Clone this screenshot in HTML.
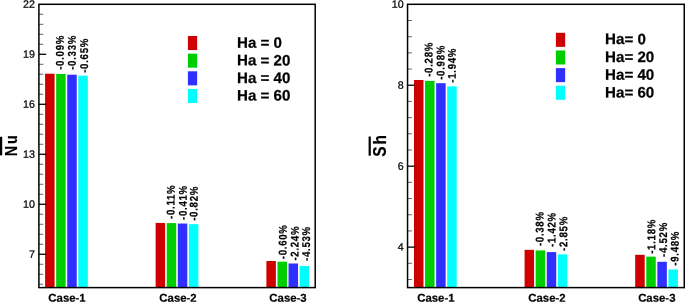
<!DOCTYPE html>
<html><head><meta charset="utf-8"><title>Bar charts</title>
<style>
html,body{margin:0;padding:0;background:#fff;}
body{width:685px;height:302px;overflow:hidden;}
svg{display:block;font-family:"Liberation Sans", Arial, Helvetica, sans-serif;fill:#000;will-change:transform;}
</style></head><body>
<svg width="685" height="302" viewBox="0 0 685 302">
<rect x="45.08" y="73.71" width="9.5" height="213.89" fill="#ce0000"/>
<rect x="56.16" y="73.98" width="9.5" height="213.62" fill="#00cd00"/>
<rect x="67.24" y="74.69" width="9.5" height="212.91" fill="#2f2fff"/>
<rect x="78.32" y="75.64" width="9.5" height="211.96" fill="#00ffff"/>
<rect x="155.63" y="222.94" width="9.5" height="64.66" fill="#ce0000"/>
<rect x="166.71" y="223.10" width="9.5" height="64.50" fill="#00cd00"/>
<rect x="177.79" y="223.55" width="9.5" height="64.05" fill="#2f2fff"/>
<rect x="188.87" y="224.15" width="9.5" height="63.45" fill="#00ffff"/>
<rect x="266.38" y="261.02" width="9.5" height="26.58" fill="#ce0000"/>
<rect x="277.46" y="261.68" width="9.5" height="25.92" fill="#00cd00"/>
<rect x="288.54" y="263.48" width="9.5" height="24.12" fill="#2f2fff"/>
<rect x="299.62" y="266.00" width="9.5" height="21.60" fill="#00ffff"/>
<text transform="translate(35.00,7.80) rotate(0.1)" font-size="10.7" text-anchor="end" stroke="#000" stroke-width="0.25">22</text>
<line x1="38.9" y1="14.30" x2="43.3" y2="14.30" stroke="#333" stroke-width="0.75"/>
<line x1="38.9" y1="24.30" x2="43.3" y2="24.30" stroke="#333" stroke-width="0.75"/>
<line x1="38.9" y1="34.30" x2="43.3" y2="34.30" stroke="#333" stroke-width="0.75"/>
<line x1="38.9" y1="44.30" x2="43.3" y2="44.30" stroke="#333" stroke-width="0.75"/>
<line x1="38.9" y1="54.29" x2="46.199999999999996" y2="54.29" stroke="#000" stroke-width="1.3"/>
<text transform="translate(35.00,57.79) rotate(0.1)" font-size="10.7" text-anchor="end" stroke="#000" stroke-width="0.25">19</text>
<line x1="38.9" y1="64.29" x2="43.3" y2="64.29" stroke="#333" stroke-width="0.75"/>
<line x1="38.9" y1="74.29" x2="43.3" y2="74.29" stroke="#333" stroke-width="0.75"/>
<line x1="38.9" y1="84.29" x2="43.3" y2="84.29" stroke="#333" stroke-width="0.75"/>
<line x1="38.9" y1="94.29" x2="43.3" y2="94.29" stroke="#333" stroke-width="0.75"/>
<line x1="38.9" y1="104.29" x2="46.199999999999996" y2="104.29" stroke="#000" stroke-width="1.3"/>
<text transform="translate(35.00,107.79) rotate(0.1)" font-size="10.7" text-anchor="end" stroke="#000" stroke-width="0.25">16</text>
<line x1="38.9" y1="114.29" x2="43.3" y2="114.29" stroke="#333" stroke-width="0.75"/>
<line x1="38.9" y1="124.29" x2="43.3" y2="124.29" stroke="#333" stroke-width="0.75"/>
<line x1="38.9" y1="134.28" x2="43.3" y2="134.28" stroke="#333" stroke-width="0.75"/>
<line x1="38.9" y1="144.28" x2="43.3" y2="144.28" stroke="#333" stroke-width="0.75"/>
<line x1="38.9" y1="154.28" x2="46.199999999999996" y2="154.28" stroke="#000" stroke-width="1.3"/>
<text transform="translate(35.00,157.78) rotate(0.1)" font-size="10.7" text-anchor="end" stroke="#000" stroke-width="0.25">13</text>
<line x1="38.9" y1="164.28" x2="43.3" y2="164.28" stroke="#333" stroke-width="0.75"/>
<line x1="38.9" y1="174.28" x2="43.3" y2="174.28" stroke="#333" stroke-width="0.75"/>
<line x1="38.9" y1="184.28" x2="43.3" y2="184.28" stroke="#333" stroke-width="0.75"/>
<line x1="38.9" y1="194.28" x2="43.3" y2="194.28" stroke="#333" stroke-width="0.75"/>
<line x1="38.9" y1="204.28" x2="46.199999999999996" y2="204.28" stroke="#000" stroke-width="1.3"/>
<text transform="translate(35.00,207.78) rotate(0.1)" font-size="10.7" text-anchor="end" stroke="#000" stroke-width="0.25">10</text>
<line x1="38.9" y1="214.28" x2="43.3" y2="214.28" stroke="#333" stroke-width="0.75"/>
<line x1="38.9" y1="224.27" x2="43.3" y2="224.27" stroke="#333" stroke-width="0.75"/>
<line x1="38.9" y1="234.27" x2="43.3" y2="234.27" stroke="#333" stroke-width="0.75"/>
<line x1="38.9" y1="244.27" x2="43.3" y2="244.27" stroke="#333" stroke-width="0.75"/>
<line x1="38.9" y1="254.27" x2="46.199999999999996" y2="254.27" stroke="#000" stroke-width="1.3"/>
<text transform="translate(35.00,257.77) rotate(0.1)" font-size="10.7" text-anchor="end" stroke="#000" stroke-width="0.25">7</text>
<line x1="38.9" y1="264.27" x2="43.3" y2="264.27" stroke="#333" stroke-width="0.75"/>
<line x1="38.9" y1="274.27" x2="43.3" y2="274.27" stroke="#333" stroke-width="0.75"/>
<line x1="38.9" y1="284.27" x2="43.3" y2="284.27" stroke="#333" stroke-width="0.75"/>
<rect x="38.9" y="4.3" width="276.30" height="283.30" fill="none" stroke="#000" stroke-width="1.5"/>
<text transform="translate(63.70,69.80) rotate(-89.9) scale(0.9,1.05)" font-size="10.7" font-weight="bold" letter-spacing="0.8" stroke="#000" stroke-width="0.2">-0.09%</text>
<text transform="translate(75.70,69.80) rotate(-89.9) scale(0.9,1.05)" font-size="10.7" font-weight="bold" letter-spacing="0.8" stroke="#000" stroke-width="0.2">-0.33%</text>
<text transform="translate(87.90,72.80) rotate(-89.9) scale(0.9,1.05)" font-size="10.7" font-weight="bold" letter-spacing="0.8" stroke="#000" stroke-width="0.2">-0.65%</text>
<text transform="translate(174.60,219.00) rotate(-89.9) scale(0.9,1.05)" font-size="10.7" font-weight="bold" letter-spacing="0.8" stroke="#000" stroke-width="0.2">-0.11%</text>
<text transform="translate(186.70,220.00) rotate(-89.9) scale(0.9,1.05)" font-size="10.7" font-weight="bold" letter-spacing="0.8" stroke="#000" stroke-width="0.2">-0.41%</text>
<text transform="translate(197.60,220.80) rotate(-89.9) scale(0.9,1.05)" font-size="10.7" font-weight="bold" letter-spacing="0.8" stroke="#000" stroke-width="0.2">-0.82%</text>
<text transform="translate(286.60,259.20) rotate(-89.9) scale(0.9,1.05)" font-size="10.7" font-weight="bold" letter-spacing="0.8" stroke="#000" stroke-width="0.2">-0.60%</text>
<text transform="translate(298.60,260.60) rotate(-89.9) scale(0.9,1.05)" font-size="10.7" font-weight="bold" letter-spacing="0.8" stroke="#000" stroke-width="0.2">-2.24%</text>
<text transform="translate(310.00,261.00) rotate(-89.9) scale(0.9,1.05)" font-size="10.7" font-weight="bold" letter-spacing="0.8" stroke="#000" stroke-width="0.2">-4.53%</text>
<text transform="translate(67.00,301.8) rotate(0.1)" font-size="11.4" font-weight="bold" stroke="#000" stroke-width="0.2" text-anchor="middle">Case-1</text>
<text transform="translate(178.00,301.8) rotate(0.1)" font-size="11.4" font-weight="bold" stroke="#000" stroke-width="0.2" text-anchor="middle">Case-2</text>
<text transform="translate(288.00,301.8) rotate(0.1)" font-size="11.4" font-weight="bold" stroke="#000" stroke-width="0.2" text-anchor="middle">Case-3</text>
<rect x="413.98" y="79.98" width="9.5" height="207.62" fill="#ce0000"/>
<rect x="425.06" y="80.90" width="9.5" height="206.70" fill="#00cd00"/>
<rect x="436.14" y="83.21" width="9.5" height="204.39" fill="#2f2fff"/>
<rect x="447.22" y="86.36" width="9.5" height="201.24" fill="#00ffff"/>
<rect x="524.58" y="249.84" width="9.5" height="37.76" fill="#ce0000"/>
<rect x="535.66" y="250.45" width="9.5" height="37.15" fill="#00cd00"/>
<rect x="546.74" y="252.10" width="9.5" height="35.50" fill="#2f2fff"/>
<rect x="557.82" y="254.38" width="9.5" height="33.22" fill="#00ffff"/>
<rect x="635.18" y="254.82" width="9.5" height="32.78" fill="#ce0000"/>
<rect x="646.26" y="256.64" width="9.5" height="30.96" fill="#00cd00"/>
<rect x="657.34" y="261.79" width="9.5" height="25.81" fill="#2f2fff"/>
<rect x="668.42" y="269.44" width="9.5" height="18.16" fill="#00ffff"/>
<text transform="translate(403.65,7.80) rotate(0.1)" font-size="10.7" text-anchor="end" stroke="#000" stroke-width="0.25">10</text>
<line x1="407.55" y1="20.49" x2="411.95" y2="20.49" stroke="#333" stroke-width="0.75"/>
<line x1="407.55" y1="36.68" x2="411.95" y2="36.68" stroke="#333" stroke-width="0.75"/>
<line x1="407.55" y1="52.87" x2="411.95" y2="52.87" stroke="#333" stroke-width="0.75"/>
<line x1="407.55" y1="69.05" x2="411.95" y2="69.05" stroke="#333" stroke-width="0.75"/>
<line x1="407.55" y1="85.24" x2="414.85" y2="85.24" stroke="#000" stroke-width="1.3"/>
<text transform="translate(403.65,88.74) rotate(0.1)" font-size="10.7" text-anchor="end" stroke="#000" stroke-width="0.25">8</text>
<line x1="407.55" y1="101.43" x2="411.95" y2="101.43" stroke="#333" stroke-width="0.75"/>
<line x1="407.55" y1="117.62" x2="411.95" y2="117.62" stroke="#333" stroke-width="0.75"/>
<line x1="407.55" y1="133.81" x2="411.95" y2="133.81" stroke="#333" stroke-width="0.75"/>
<line x1="407.55" y1="150.00" x2="411.95" y2="150.00" stroke="#333" stroke-width="0.75"/>
<line x1="407.55" y1="166.19" x2="414.85" y2="166.19" stroke="#000" stroke-width="1.3"/>
<text transform="translate(403.65,169.69) rotate(0.1)" font-size="10.7" text-anchor="end" stroke="#000" stroke-width="0.25">6</text>
<line x1="407.55" y1="182.37" x2="411.95" y2="182.37" stroke="#333" stroke-width="0.75"/>
<line x1="407.55" y1="198.56" x2="411.95" y2="198.56" stroke="#333" stroke-width="0.75"/>
<line x1="407.55" y1="214.75" x2="411.95" y2="214.75" stroke="#333" stroke-width="0.75"/>
<line x1="407.55" y1="230.94" x2="411.95" y2="230.94" stroke="#333" stroke-width="0.75"/>
<line x1="407.55" y1="247.13" x2="414.85" y2="247.13" stroke="#000" stroke-width="1.3"/>
<text transform="translate(403.65,250.63) rotate(0.1)" font-size="10.7" text-anchor="end" stroke="#000" stroke-width="0.25">4</text>
<line x1="407.55" y1="263.32" x2="411.95" y2="263.32" stroke="#333" stroke-width="0.75"/>
<line x1="407.55" y1="279.51" x2="411.95" y2="279.51" stroke="#333" stroke-width="0.75"/>
<rect x="407.55" y="4.3" width="276.70" height="283.30" fill="none" stroke="#000" stroke-width="1.5"/>
<text transform="translate(432.40,76.80) rotate(-89.9) scale(0.9,1.05)" font-size="10.7" font-weight="bold" letter-spacing="0.8" stroke="#000" stroke-width="0.2">-0.28%</text>
<text transform="translate(444.40,79.80) rotate(-89.9) scale(0.9,1.05)" font-size="10.7" font-weight="bold" letter-spacing="0.8" stroke="#000" stroke-width="0.2">-0.98%</text>
<text transform="translate(455.70,82.70) rotate(-89.9) scale(0.9,1.05)" font-size="10.7" font-weight="bold" letter-spacing="0.8" stroke="#000" stroke-width="0.2">-1.94%</text>
<text transform="translate(543.50,246.10) rotate(-89.9) scale(0.9,1.05)" font-size="10.7" font-weight="bold" letter-spacing="0.8" stroke="#000" stroke-width="0.2">-0.38%</text>
<text transform="translate(555.40,247.00) rotate(-89.9) scale(0.9,1.05)" font-size="10.7" font-weight="bold" letter-spacing="0.8" stroke="#000" stroke-width="0.2">-1.42%</text>
<text transform="translate(567.30,250.90) rotate(-89.9) scale(0.9,1.05)" font-size="10.7" font-weight="bold" letter-spacing="0.8" stroke="#000" stroke-width="0.2">-2.85%</text>
<text transform="translate(655.20,253.80) rotate(-89.9) scale(0.9,1.05)" font-size="10.7" font-weight="bold" letter-spacing="0.8" stroke="#000" stroke-width="0.2">-1.18%</text>
<text transform="translate(666.90,256.90) rotate(-89.9) scale(0.9,1.05)" font-size="10.7" font-weight="bold" letter-spacing="0.8" stroke="#000" stroke-width="0.2">-4.52%</text>
<text transform="translate(678.60,265.70) rotate(-89.9) scale(0.9,1.05)" font-size="10.7" font-weight="bold" letter-spacing="0.8" stroke="#000" stroke-width="0.2">-9.48%</text>
<text transform="translate(435.90,301.8) rotate(0.1)" font-size="11.4" font-weight="bold" stroke="#000" stroke-width="0.2" text-anchor="middle">Case-1</text>
<text transform="translate(546.95,301.8) rotate(0.1)" font-size="11.4" font-weight="bold" stroke="#000" stroke-width="0.2" text-anchor="middle">Case-2</text>
<text transform="translate(656.80,301.8) rotate(0.1)" font-size="11.4" font-weight="bold" stroke="#000" stroke-width="0.2" text-anchor="middle">Case-3</text>
<rect x="187.9" y="36.00" width="9.25" height="14.05" fill="#ce0000"/>
<text transform="translate(237.0,47.80) rotate(0.1)" font-size="15.1" font-weight="bold" stroke="#000" stroke-width="0.25">Ha = 0</text>
<rect x="187.9" y="53.65" width="9.25" height="14.05" fill="#00cd00"/>
<text transform="translate(237.0,65.35) rotate(0.1)" font-size="15.1" font-weight="bold" stroke="#000" stroke-width="0.25">Ha = 20</text>
<rect x="187.9" y="71.30" width="9.25" height="14.05" fill="#2f2fff"/>
<text transform="translate(237.0,82.90) rotate(0.1)" font-size="15.1" font-weight="bold" stroke="#000" stroke-width="0.25">Ha = 40</text>
<rect x="187.9" y="88.95" width="9.25" height="14.05" fill="#00ffff"/>
<text transform="translate(237.0,100.45) rotate(0.1)" font-size="15.1" font-weight="bold" stroke="#000" stroke-width="0.25">Ha = 60</text>
<rect x="555.9" y="32.80" width="9.25" height="14.05" fill="#ce0000"/>
<text transform="translate(605.1,44.10) rotate(0.1)" font-size="15.1" font-weight="bold" stroke="#000" stroke-width="0.25">Ha= 0</text>
<rect x="555.9" y="50.45" width="9.25" height="14.05" fill="#00cd00"/>
<text transform="translate(605.1,61.90) rotate(0.1)" font-size="15.1" font-weight="bold" stroke="#000" stroke-width="0.25">Ha= 20</text>
<rect x="555.9" y="68.10" width="9.25" height="14.05" fill="#2f2fff"/>
<text transform="translate(605.1,79.65) rotate(0.1)" font-size="15.1" font-weight="bold" stroke="#000" stroke-width="0.25">Ha= 40</text>
<rect x="555.9" y="85.75" width="9.25" height="14.05" fill="#00ffff"/>
<text transform="translate(605.1,97.45) rotate(0.1)" font-size="15.1" font-weight="bold" stroke="#000" stroke-width="0.25">Ha= 60</text>
<text transform="translate(17.1,156.3) rotate(-90) scale(0.85,1)" font-size="17.0" font-weight="bold" letter-spacing="2.1" stroke="#000" stroke-width="0.2">Nu</text>
<rect x="0" y="136.8" width="2.2" height="18.60" fill="#000"/>
<text transform="translate(385.8,156.7) rotate(-90) scale(0.87,1)" font-size="17.8" font-weight="bold" letter-spacing="2.3" stroke="#000" stroke-width="0.2">Sh</text>
<rect x="368.6" y="136.5" width="2.2" height="19.20" fill="#000"/>
</svg>
</body></html>
